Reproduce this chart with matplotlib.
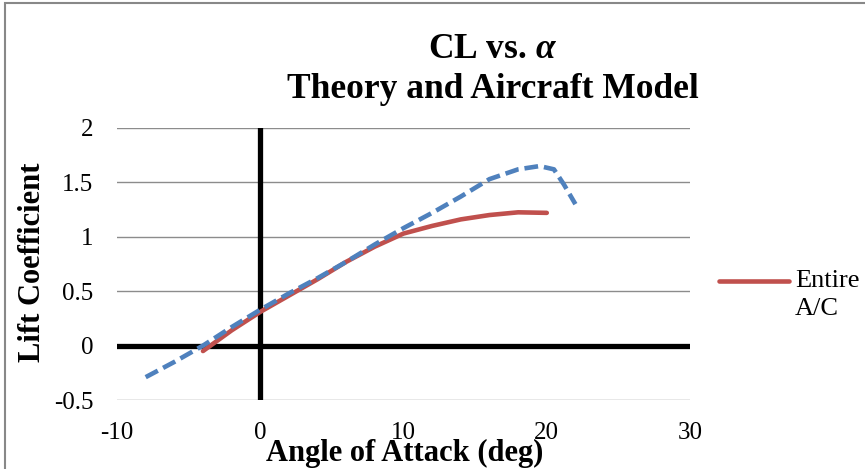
import matplotlib
matplotlib.use("Agg")
import matplotlib.pyplot as plt
from matplotlib.patches import Rectangle
from matplotlib.lines import Line2D

alpha_entire = [-4, -2, 0, 2, 4, 6, 8, 10, 12, 14, 16, 18, 20]
cl_entire = [-0.05, 0.14, 0.31, 0.46, 0.61, 0.77, 0.91, 1.03, 1.10, 1.16, 1.20, 1.225, 1.22]

alpha_theory = [-8, -6, -4, -2, 0, 2, 4, 6, 8, 10, 12, 14, 16, 18, 19.5, 20.5, 21.2, 22]
cl_theory = [-0.29, -0.15, 0.0, 0.17, 0.33, 0.48, 0.62, 0.77, 0.93, 1.08, 1.22, 1.37, 1.53, 1.62, 1.65, 1.62, 1.48, 1.30]

xticks = [-10, 0, 10, 20, 30]
xtick_labels = ["-10", "0", "10", "20", "30"]
yticks = [-0.5, 0, 0.5, 1, 1.5, 2]
ytick_labels = ["-0.5", "0", "0.5", "1", "1.5", "2"]
legend_label = "Entire\nA/C"

serif = ["Liberation Serif", "DejaVu Serif"]
plt.rcParams['font.family'] = serif
plt.rcParams['mathtext.fontset'] = 'custom'
plt.rcParams['mathtext.it'] = 'Liberation Serif:italic:bold'
plt.rcParams['mathtext.rm'] = 'Liberation Serif:bold'

fig = plt.figure(figsize=(8.65, 4.69), dpi=100)
fig.patches.append(Rectangle((0.006, -0.1), 1.2, 1.093, transform=fig.transFigure,
                             fill=False, edgecolor="#888888", linewidth=1.5))
ax = fig.add_axes([0.1353, 0.1471, 0.6624, 0.58])

ax.set_xlim(-10, 30)
ax.set_ylim(-0.5, 2)
for s in ax.spines.values():
    s.set_visible(False)
ax.set_yticks(yticks)
ax.set_yticklabels(ytick_labels)
ax.set_xticks(xticks)
ax.set_xticklabels(xtick_labels)
ax.tick_params(axis='both', length=0, labelsize=18)
ax.tick_params(axis='x', pad=16)
ax.tick_params(axis='y', pad=17)
ax.yaxis.grid(True, color="#8c8c8c", linewidth=1.0)
ax.set_axisbelow(True)

ax.axhline(0, color="black", linewidth=3.8, zorder=2)
ax.axvline(0, color="black", linewidth=3.8, zorder=2)

red_color = "#C0504D"
ax.plot(alpha_entire, cl_entire, color=red_color, linewidth=3.3,
        solid_capstyle="round", zorder=3)
ax.plot(alpha_theory, cl_theory, color="#4F81BD", linewidth=3.3,
        linestyle=(0, (3.0, 1.3)), zorder=4)

fig.text(493 / 865, 1 - 50 / 469, r"CL vs. $\alpha$", fontsize=25.5, fontweight="bold",
         ha="center", va="center")
fig.text(493 / 865, 1 - 90 / 469, "Theory and Aircraft Model", fontsize=25.5,
         fontweight="bold", ha="center", va="center")
fig.text(33 / 865, 1 - 262 / 469, "Lift Coefficient", fontsize=22, fontweight="bold",
         rotation=90, ha="center", va="center")
fig.text(405 / 865, 1 - 453 / 469, "Angle of Attack (deg)", fontsize=22,
         fontweight="bold", ha="center", va="center")

# legend (Excel style: handle aligned with the first text line)
fig.add_artist(Line2D([719 / 865, 789 / 865], [1 - 281 / 469, 1 - 281 / 469],
                      transform=fig.transFigure, color=red_color, linewidth=3.3,
                      solid_capstyle="round"))
fig.text(795 / 865, 1 - 270 / 469, legend_label, fontsize=19, ha="left", va="top",
         linespacing=1.35)

fig.savefig("out.png", dpi=100)
